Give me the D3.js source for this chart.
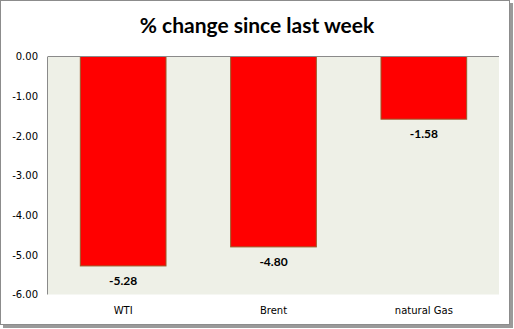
<!DOCTYPE html>
<html><head><meta charset="utf-8">
<script src="https://cdn.jsdelivr.net/npm/d3@7"></script>
<style>body{margin:0;background:#fff}svg{display:block}</style>
</head><body>
<svg id="c" width="514" height="329"></svg>
<script>
const categories = ["WTI", "Brent", "natural Gas"];
const values = [-5.28, -4.80, -1.58];
const yTicks = [0, -1, -2, -3, -4, -5, -6];
const title = "% change since last week";

const fmt = d => d.toFixed(2);
const svg = d3.select("#c");
// shadow + frame
svg.append("rect").attr("x", 3).attr("y", 3).attr("width", 510).attr("height", 325).attr("fill", "#9a9a9a");
svg.append("rect").attr("x", 0.5).attr("y", 0.5).attr("width", 509).attr("height", 324)
  .attr("fill", "#fff").attr("stroke", "#8c8c8c");

const L = 48, R = 499, T = 56.5, B = 294.5;
const x = d3.scaleBand().domain(categories).range([L, R]).paddingInner(0.43).paddingOuter(0.215);
const y = d3.scaleLinear().domain([-6, 0]).range([B, T]);

svg.append("rect").attr("x", L).attr("y", T).attr("width", R - L).attr("height", B - T).attr("fill", "#eef0e7");

svg.append("text").attr("x", 257).attr("y", 33).attr("text-anchor", "middle")
  .style("font-family", "Lato, 'Open Sans', sans-serif").style("font-weight", "bold").style("font-size", "21px")
  .text(title);

svg.selectAll("rect.bar").data(values).enter().append("rect").attr("class", "bar")
  .attr("x", (d, i) => x(categories[i]))
  .attr("y", y(0))
  .attr("width", x.bandwidth())
  .attr("height", d => y(d) - y(0))
  .attr("fill", "#ff0000").attr("stroke", "#9b5a2a").attr("stroke-width", 1);

// axes
const yAxis = d3.axisLeft(y).tickValues(yTicks).tickSize(0).tickPadding(10).tickFormat(fmt);
const gy = svg.append("g").attr("transform", `translate(${L},0)`).call(yAxis);
gy.select(".domain").remove();
gy.selectAll("text").style("font-family", "Verdana, 'DejaVu Sans', sans-serif").style("font-size", "10px").attr("fill", "#000");

svg.append("line").attr("x1", L - 0.5).attr("x2", L - 0.5).attr("y1", T).attr("y2", B).attr("stroke", "#8a8a8a");
svg.append("line").attr("x1", L).attr("x2", R).attr("y1", y(0)).attr("y2", y(0)).attr("stroke", "#8a8a8a");

const xAxis = d3.axisBottom(x).tickSize(0).tickPadding(12);
const gx = svg.append("g").attr("transform", `translate(0,${B})`).call(xAxis);
gx.select(".domain").remove();
gx.selectAll("text").style("font-family", "Verdana, 'DejaVu Sans', sans-serif").style("font-size", "10px").attr("fill", "#000");

svg.selectAll("text.val").data(values).enter().append("text").attr("class", "val")
  .attr("x", (d, i) => x(categories[i]) + x.bandwidth() / 2)
  .attr("y", d => y(d) + 19)
  .attr("text-anchor", "middle")
  .style("font-family", "Lato, 'Open Sans', sans-serif").style("font-weight", "bold").style("font-size", "12px")
  .text(d => fmt(d));
</script>
</body></html>
